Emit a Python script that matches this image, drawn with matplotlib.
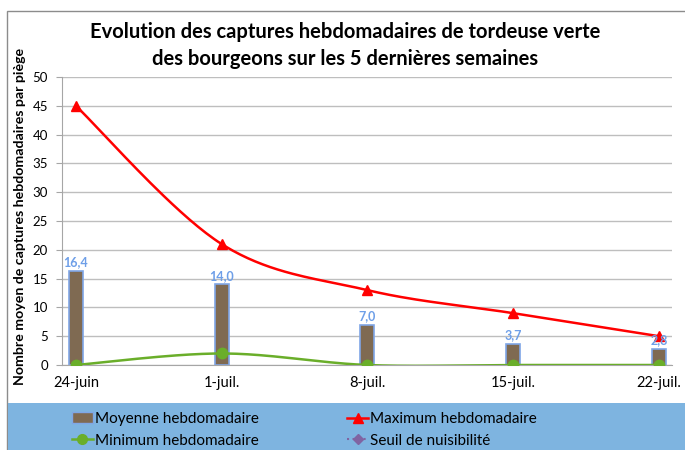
import numpy as np
import matplotlib
matplotlib.use("Agg")
import matplotlib.pyplot as plt
from matplotlib.patches import Rectangle
from matplotlib.lines import Line2D

plt.rcParams['font.family'] = ['Lato', 'DejaVu Sans']

# data
weeks = ["24-juin", "1-juil.", "8-juil.", "15-juil.", "22-juil."]
moyenne = [16.4, 14.0, 7.0, 3.7, 2.8]
maximum = [45, 21, 13, 9, 5]
minimum = [0, 2, 0, 0, 0]
seuil = []  # no points shown

brown = "#7F6A52"
bar_edge = "#7FA6E6"
red = "#FF0000"
green = "#6AAE2A"
purple = "#8064A2"
band = "#7EB4E0"
label_col = "#6E9FE8"


def smooth(xs, ys, n=40):
    # Excel-like smoothed line (Bezier through the points)
    P = np.column_stack([xs, ys]).astype(float)
    out = [P[:1]]
    t = np.linspace(0, 1, n)[1:, None]
    for i in range(len(P) - 1):
        p0 = P[i - 1] if i > 0 else P[i]
        p1, p2 = P[i], P[i + 1]
        p3 = P[i + 2] if i + 2 < len(P) else P[i + 1]
        c1 = p1 + (p2 - p0) / 6
        c2 = p2 - (p3 - p1) / 6
        seg = (1 - t) ** 3 * p1 + 3 * (1 - t) ** 2 * t * c1 + 3 * (1 - t) * t ** 2 * c2 + t ** 3 * p2
        out.append(seg)
    pts = np.vstack(out)
    return pts[:, 0], pts[:, 1]


fig = plt.figure(figsize=(6.85, 4.5), dpi=100)

# outer frame and legend band
fig.patches.append(Rectangle((7 / 685, -0.1), 1.2, 1 - 11 / 450 + 0.1, transform=fig.transFigure,
                             fill=False, edgecolor="#8C8C8C", lw=1.0, zorder=0))
fig.patches.append(Rectangle((8 / 685, 0), 1, 1 - 403 / 450, transform=fig.transFigure,
                             facecolor=band, edgecolor="none", zorder=0))

ax = fig.add_axes([62 / 685, 1 - 365 / 450, (672 - 62) / 685, (365 - 77) / 450])
x = np.arange(len(weeks))

ax.bar(x, moyenne, width=0.095, color=brown, edgecolor=bar_edge, linewidth=1.2, zorder=2)
for xi, v in zip(x, moyenne):
    ax.annotate(f"{v:.1f}".replace(".", ","), (xi, v), xytext=(0, 2), textcoords="offset points",
                ha="center", va="bottom", color=label_col, fontsize=9, fontweight="bold", zorder=5)

sx, sy = smooth(x, maximum)
ax.plot(sx, sy, color=red, lw=1.8, zorder=3)
ax.plot(x, maximum, ls="none", marker="^", ms=7, color=red, zorder=4)

sx, sy = smooth(x, minimum)
ax.plot(sx, sy, color=green, lw=1.8, zorder=3)
ax.plot(x, minimum, ls="none", marker="o", ms=7.5, color=green, zorder=4)

ax.set_xlim(-0.095, 4.09)
ax.set_ylim(0, 50)
ax.set_yticks(np.arange(0, 51, 5))
ax.set_xticks(x)
ax.set_xticklabels(weeks, fontsize=10.5)
ax.tick_params(axis="y", labelsize=9.5, length=4, color="#A6A6A6", pad=6)
ax.tick_params(axis="x", length=0, pad=8)
ax.grid(axis="y", color="#BEBEBE", lw=1.0, zorder=0)
ax.set_axisbelow(True)
for s in ["top", "right"]:
    ax.spines[s].set_visible(False)
ax.spines["left"].set_color("#A6A6A6")
ax.spines["bottom"].set_color("#A6A6A6")
ax.set_facecolor("none")

ax.set_ylabel("Nombre moyen de captures hebdomadaires par piège", fontsize=10.2, fontweight="bold")
ax.yaxis.set_label_coords(-0.059, 0.515)

fig.text(0.504, 1 - 32 / 450, "Evolution des captures hebdomadaires de tordeuse verte",
         ha="center", va="center", fontsize=14.5, fontweight="bold")
fig.text(0.504, 1 - 59 / 450, "des bourgeons sur les 5 dernières semaines",
         ha="center", va="center", fontsize=14.5, fontweight="bold")

handles = [
    Rectangle((0, 0), 1, 1, facecolor=brown, edgecolor=bar_edge, lw=1.0),
    Line2D([], [], color=green, lw=1.8, marker="o", ms=7),
    Line2D([], [], color=red, lw=1.8, marker="^", ms=7),
    Line2D([], [], color=purple, lw=1.5, ls=":", marker="D", ms=5),
]
labels = ["Moyenne hebdomadaire", "Minimum hebdomadaire", "Maximum hebdomadaire", "Seuil de nuisibilité"]
fig.legend(handles, labels, ncol=2, loc="center left", bbox_to_anchor=(72 / 685, 1 - 430 / 450),
           frameon=False, fontsize=11, borderpad=0, borderaxespad=0, columnspacing=5.8,
           handlelength=1.35, handletextpad=0.15, labelspacing=0.5)

fig.savefig("out.png", dpi=100)
